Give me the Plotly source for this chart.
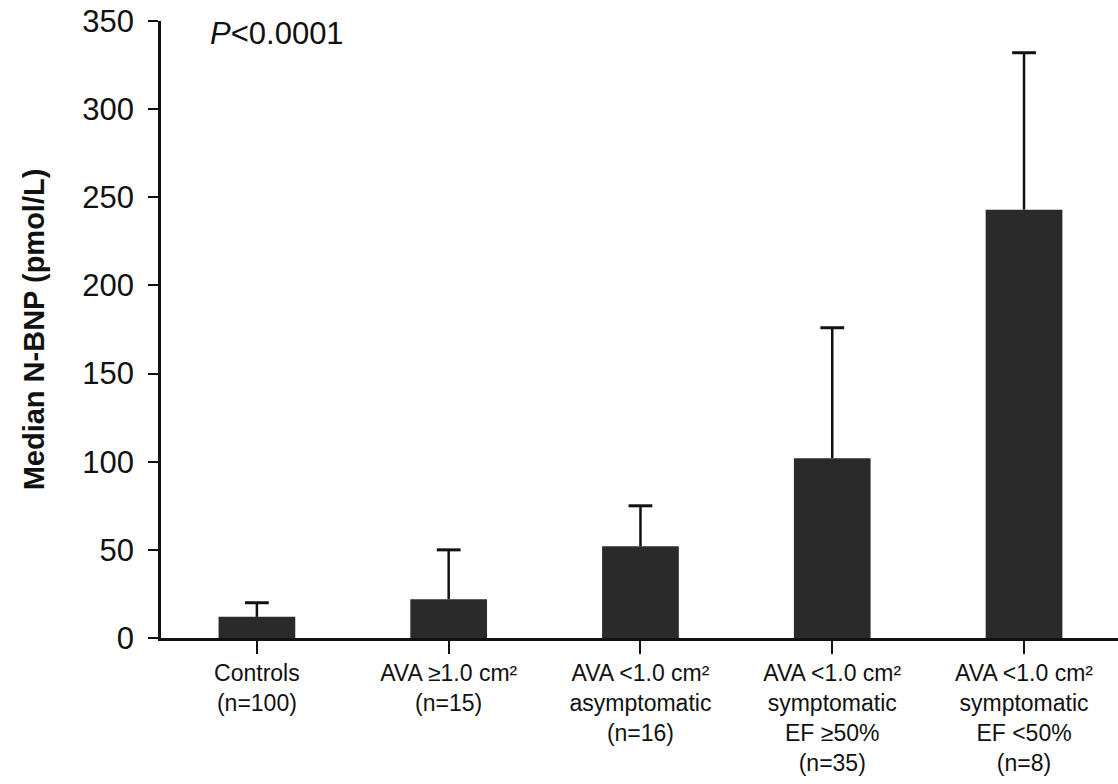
import plotly.graph_objects as go

categories = [
    "Controls<br>(n=100)",
    "AVA ≥1.0 cm²<br>(n=15)",
    "AVA <1.0 cm²<br>asymptomatic<br>(n=16)",
    "AVA <1.0 cm²<br>symptomatic<br>EF ≥50%<br>(n=35)",
    "AVA <1.0 cm²<br>symptomatic<br>EF <50%<br>(n=8)",
]
median_nbnp = [12, 22, 52, 102, 243]
upper_error = [8, 28, 23, 74, 89]
y_ticks = [0, 50, 100, 150, 200, 250, 300, 350]

font = "Liberation Sans, Arial, sans-serif"
ink = "#111111"
xs = list(range(len(categories)))

# whisker segments from bar top to bar top + error
wx, wy = [], []
for i, (m, e) in enumerate(zip(median_nbnp, upper_error)):
    wx += [i, i, None]
    wy += [m, m + e, None]
tops = [m + e for m, e in zip(median_nbnp, upper_error)]

fig = go.Figure()
fig.add_trace(go.Bar(
    x=xs, y=median_nbnp, width=0.4,
    marker=dict(color="#2a2a2a", line=dict(width=0)),
))
fig.add_trace(go.Scatter(
    x=wx, y=wy, mode="lines",
    line=dict(color=ink, width=2.5), hoverinfo="skip",
))
fig.add_trace(go.Scatter(
    x=xs, y=tops, mode="markers",
    marker=dict(symbol="line-ew", size=17, line=dict(color=ink, width=3)),
    hoverinfo="skip",
))

fig.update_layout(
    width=1118, height=784,
    margin=dict(l=161, r=0, t=21, b=146),
    paper_bgcolor="white", plot_bgcolor="white",
    showlegend=False,
    font=dict(family=font, color=ink),
    xaxis=dict(
        range=[-0.5, 4.49],
        tickmode="array", tickvals=xs, ticktext=categories,
        tickfont=dict(size=23, family=font, color=ink),
        showline=True, linecolor=ink, linewidth=2.5,
        ticks="outside", ticklen=13, tickwidth=2, tickcolor=ink,
        tickson="boundaries",
        showgrid=False, zeroline=False, automargin=False,
        ticklabeloverflow="allow",
        type="linear",
    ),
    yaxis=dict(
        range=[0, 350],
        tickmode="array", tickvals=y_ticks,
        tickfont=dict(size=31, family=font, color=ink),
        showline=True, linecolor=ink, linewidth=2.5,
        ticks="outside", ticklen=10, tickwidth=2, tickcolor=ink,
        ticklabelstandoff=8,
        ticklabeloverflow="allow",
        showgrid=False, zeroline=False, automargin=False,
        title=dict(text="<b>Median N-BNP (pmol/L)</b>",
                   font=dict(size=29, family=font, color=ink),
                   standoff=30),
    ),
)

fig.add_annotation(
    text="<i>P</i>&lt;0.0001",
    xref="paper", yref="paper", x=0.049, y=0.979,
    xanchor="left", yanchor="middle",
    showarrow=False,
    font=dict(size=31, family=font, color=ink),
)

fig.write_html("out.html",
               config={"displayModeBar": False},
               post_script="document.body.style.margin='0';document.body.style.overflow='hidden';")
